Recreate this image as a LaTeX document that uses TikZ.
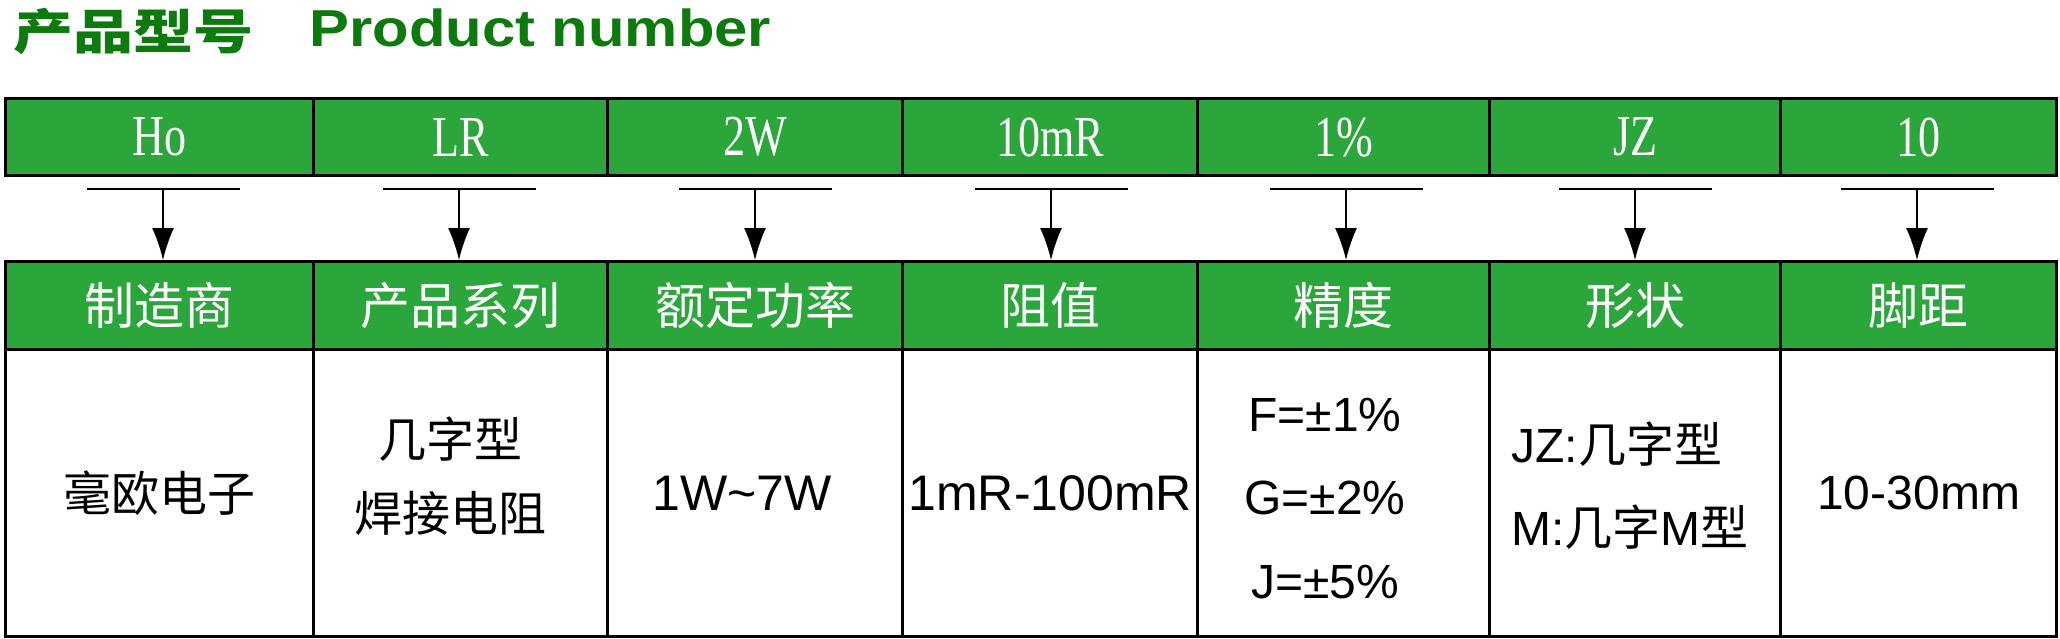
\documentclass[tikz,border=0pt]{standalone}
\usepackage{graphicx}
\usepackage{fontspec}
\setmainfont{Liberation Sans}
\newfontfamily\cjk{Noto Sans CJK SC}
\newfontfamily\cond[FakeStretch=0.76]{Liberation Serif}
\usetikzlibrary{arrows.meta,calc}
\definecolor{cellgreen}{RGB}{43,166,58}
\definecolor{titlegreen}{RGB}{12,122,12}
\begin{document}
\begin{tikzpicture}[x=0.5pt,y=-0.5pt,
  gridcell/.style={draw=black,line width=1.65pt,inner sep=0pt,anchor=north west},
  topcell/.style={gridcell,fill=cellgreen,minimum height=38.5pt,text=white,font=\cond\fontsize{29}{32}\selectfont},
  headcell/.style={gridcell,fill=cellgreen,minimum height=44pt,text=white,font=\cjk\fontsize{25}{30}\selectfont},
  bodycell/.style={gridcell,fill=white,minimum height=143.5pt,text=black,font=\fontsize{24}{28}\selectfont},
  bodytext/.style={inner sep=0pt,text=black,font=\fontsize{24}{28}\selectfont},
  titletext/.style={inner sep=0pt,text=titlegreen,anchor=base west},
  bar/.style={line width=1.3pt},
  arr/.style={line width=0.7pt,-{Latex[length=16pt,width=11pt]}}
]
\useasboundingbox (0,0) rectangle (2060,638);

% title
\node[titletext,font=\cjk\bfseries\fontsize{24}{28}\selectfont] (tzh) at (13,49) {\scalebox{1.25}[1]{产品型号}};
\node[titletext,font=\bfseries\fontsize{26}{30}\selectfont] (ten) at (309,46) {\scalebox{1.15}[1]{Product number}};

% cells
\foreach \i/\xa/\xb/\ax/\top/\head in {
  1/3.6/311.6/163/Ho/制造商,
  2/311.6/606/459/LR/产品系列,
  3/606/901/755/2W/额定功率,
  4/901/1196/1051/10mR/阻值,
  5/1196/1488/1346/1\%/精度,
  6/1488/1779/1635/JZ/形状,
  7/1779/2055/1917/10/脚距} {
  \pgfmathsetmacro\w{(\xb-\xa)*0.5}
  \node[topcell,minimum width=\w pt] (t\i) at (\xa,97) {\top};
  \node[headcell,minimum width=\w pt] (h\i) at (\xa,260) {\head};
  \node[bodycell,minimum width=\w pt] (c\i) at (\xa,348) {};
  \coordinate (s\i) at (\ax,189);
  \draw[bar] ($(s\i)+(-76.5,0)$) -- ($(s\i)+(76.5,0)$);
  \draw[arr] (s\i) -- (s\i |- h\i.north);
}

% body texts
\node[bodytext,font=\cjk\fontsize{24}{28}\selectfont] (b1) at (c1) {毫欧电子};
\node[bodytext,align=center,font=\cjk\fontsize{24}{37}\selectfont] (b2) at (450,476) {几字型\\焊接电阻};
\node[bodytext,font=\fontsize{25}{28}\selectfont] (b3) at ($(c3)+(-13,0)$) {1W\textasciitilde7W};
\node[bodytext,font=\fontsize{25}{28}\selectfont] (b4) at (c4) {1mR-100mR};
\node[bodytext,align=center,font=\fontsize{24}{41.75}\selectfont] (b5) at (1325,498.5) {F=±1\%\\G=±2\%\\J=±5\%};
\node[bodytext,align=left,anchor=west,font=\fontsize{24}{41.5}\selectfont] (b6) at (1511,485.5) {JZ:{\cjk 几字型}\\M:{\cjk 几字}M{\cjk 型}};
\node[bodytext] (b7) at (c7) {10-30mm};
\end{tikzpicture}
\end{document}
